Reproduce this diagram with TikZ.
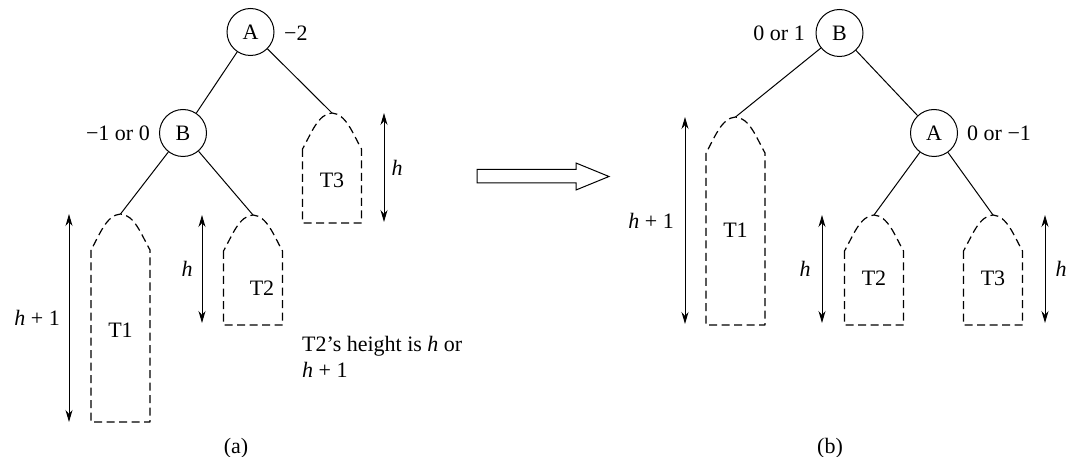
\documentclass[tikz,border=0pt]{standalone}
\usepackage{fontspec}
\setmainfont{Liberation Serif}
\usetikzlibrary{arrows.meta}
\tikzset{
  treenode/.style={circle, draw, line width=1pt, minimum size=47pt, inner sep=0pt},
  subtree/.style={draw, line width=1.2pt, dash pattern=on 8pt off 4.5pt, line join=round},
  edge/.style={line width=1pt},
  dbl/.style={line width=1pt, {Stealth[length=12pt,width=7pt]}-{Stealth[length=12pt,width=7pt]}},
  lbl/.style={inner sep=0pt},
}
\newcommand\mysub[5]{% name, x center, apex y, bottom y, label y
  \coordinate (#1) at (#2,#3);
  \draw[subtree] (#2-29.5,#3+36) -- (#2-29.5,#4) -- (#2+29.5,#4) -- (#2+29.5,#3+36)
     .. controls (#2+20.5,#3+20) and (#2+14,#3+1) .. (#1)
     .. controls (#2-14,#3+1) and (#2-20.5,#3+20) .. cycle;
}
\begin{document}
\begin{tikzpicture}[x=1pt,y=-1pt,font=\fontsize{22}{26}\selectfont]
\useasboundingbox (0,0) rectangle (1066,457);
% ---------- (a) ----------
\node[treenode] (aL) at (250.5,32) {A};
\node[treenode] (bL) at (183,133) {B};
\node[lbl, anchor=west] (aLl) at (284,33) {−2};
\node[lbl, anchor=east] (bLl) at (150,133) {−1 or 0};
\mysub{t1L}{120.5}{214}{422}{}
\mysub{t2L}{253}{215}{325}{}
\mysub{t3L}{332}{113}{223}{}
\node (t1Ln) at (120.5,330) {T1};
\node (t2Ln) at (262,288) {T2};
\node (t3Ln) at (332,180) {T3};
\draw[edge] (aL) -- (bL);
\draw[edge] (aL) -- (t3L);
\draw[edge] (bL) -- (t1L);
\draw[edge] (bL) -- (t2L);
\coordinate (h1La) at (69,214); \coordinate (h1Lb) at (69,422);
\coordinate (h2La) at (202,215); \coordinate (h2Lb) at (202,323);
\coordinate (h3La) at (384,113); \coordinate (h3Lb) at (384,222);
\draw[dbl] (h1La) -- (h1Lb);
\draw[dbl] (h2La) -- (h2Lb);
\draw[dbl] (h3La) -- (h3Lb);
\node[lbl, anchor=east] (h1Ll) at (60,318) {\textit{h} + 1};
\node[lbl] (h2Ll) at (187,269) {\textit{h}};
\node[lbl] (h3Ll) at (397,168) {\textit{h}};
\node[lbl, anchor=base west] (note1) at (302,351) {T2’s height is \textit{h} or};
\node[lbl, anchor=base west] (note2) at (302,377) {\textit{h} + 1};
\node[lbl, anchor=base] (capa) at (236,453) {(a)};
% ---------- big arrow ----------
\draw[line width=1pt, line join=miter] (477,169.5) -- (576,169.5) -- (576,163) -- (609,176.5)
   -- (576,190) -- (576,183) -- (477,183) -- cycle;
% ---------- (b) ----------
\node[treenode] (bR) at (839.5,33) {B};
\node[treenode] (aR) at (934,133) {A};
\node[lbl, anchor=east] (bRl) at (805,33) {0 or 1};
\node[lbl, anchor=west] (aRl) at (967,133) {0 or −1};
\mysub{t1R}{735.5}{117}{325}{}
\mysub{t2R}{874}{215}{325}{}
\mysub{t3R}{993}{215}{325}{}
\node (t1Rn) at (735.5,230) {T1};
\node (t2Rn) at (874,278) {T2};
\node (t3Rn) at (993,278) {T3};
\draw[edge] (bR) -- (t1R);
\draw[edge] (bR) -- (aR);
\draw[edge] (aR) -- (t2R);
\draw[edge] (aR) -- (t3R);
\coordinate (h1Ra) at (685,117); \coordinate (h1Rb) at (685,324);
\coordinate (h2Ra) at (822,215); \coordinate (h2Rb) at (822,323);
\coordinate (h3Ra) at (1045,215); \coordinate (h3Rb) at (1045,323);
\draw[dbl] (h1Ra) -- (h1Rb);
\draw[dbl] (h2Ra) -- (h2Rb);
\draw[dbl] (h3Ra) -- (h3Rb);
\node[lbl, anchor=east] (h1Rl) at (674,221) {\textit{h} + 1};
\node[lbl] (h2Rl) at (805,269) {\textit{h}};
\node[lbl] (h3Rl) at (1061,269) {\textit{h}};
\node[lbl, anchor=base] (capb) at (830,453) {(b)};
\end{tikzpicture}
\end{document}
